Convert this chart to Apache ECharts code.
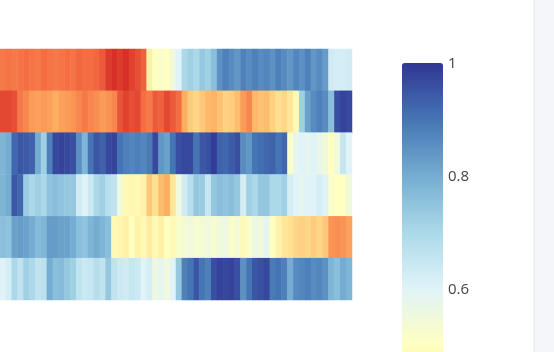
<!DOCTYPE html>
<html>
<head>
<meta charset="utf-8">
<script src="https://cdn.jsdelivr.net/npm/echarts@6/dist/echarts.min.js"></script>
<style>
html,body{margin:0;padding:0;background:#fff;}
#chart{width:554px;height:352px;}
</style>
</head>
<body>
<div id="chart"></div>
<script>
// Row labels (top to bottom) and column count
const rowNames = ['r1', 'r2', 'r3', 'r4', 'r5', 'r6'];

const row1 = [0.22,0.21,0.22,0.21,0.20,0.21,0.22,0.20,0.21,0.22,0.21,0.20,0.21,0.19,0.20,
              0.20,0.19,0.17,0.12,0.10,0.12,0.10,0.13,0.15,0.18,0.45,0.50,0.52,0.50,0.55,
              0.60,0.70,0.72,0.70,0.74,0.72,0.76,0.85,0.88,0.86,0.84,0.88,0.86,0.88,0.86,
              0.87,0.85,0.88,0.86,0.84,0.87,0.85,0.88,0.84,0.86,0.83,0.63,0.62,0.62,0.63];
const row2 = [0.14,0.14,0.15,0.22,0.24,0.27,0.28,0.27,0.28,0.30,0.28,0.27,0.26,0.24,0.22,
              0.24,0.25,0.27,0.26,0.24,0.16,0.13,0.15,0.14,0.20,0.22,0.17,0.18,0.14,0.17,
              0.20,0.30,0.36,0.38,0.35,0.32,0.31,0.34,0.37,0.36,0.33,0.27,0.24,0.32,0.34,
              0.33,0.37,0.40,0.38,0.42,0.48,0.72,0.82,0.86,0.88,0.86,0.76,0.96,0.98,0.97];
const row3 = [0.78,0.80,0.92,0.95,0.94,0.93,0.80,0.72,0.88,0.97,0.98,0.97,0.96,0.85,0.78,
              0.90,0.95,0.93,0.97,0.98,0.90,0.88,0.87,0.88,0.87,0.89,0.97,0.84,0.82,0.90,
              0.96,0.97,0.97,0.90,0.95,0.96,0.99,0.93,0.92,0.94,0.96,0.86,0.84,0.90,0.91,
              0.92,0.93,0.90,0.92,0.52,0.58,0.60,0.58,0.60,0.57,0.55,0.50,0.55,0.65,0.60];
const row4 = [0.78,0.80,0.95,0.92,0.73,0.70,0.72,0.70,0.75,0.76,0.75,0.74,0.74,0.63,0.60,
              0.64,0.70,0.72,0.68,0.66,0.55,0.48,0.47,0.48,0.46,0.35,0.40,0.33,0.30,0.42,
              0.55,0.63,0.68,0.74,0.73,0.65,0.74,0.76,0.75,0.76,0.74,0.62,0.72,0.70,0.74,
              0.74,0.70,0.70,0.72,0.62,0.60,0.58,0.60,0.60,0.62,0.60,0.52,0.50,0.50,0.55];
const row5 = [0.76,0.75,0.82,0.83,0.82,0.80,0.77,0.78,0.83,0.83,0.82,0.82,0.80,0.76,0.75,
              0.78,0.80,0.78,0.76,0.48,0.47,0.45,0.50,0.46,0.48,0.44,0.48,0.45,0.50,0.48,
              0.52,0.54,0.55,0.53,0.54,0.55,0.53,0.55,0.56,0.52,0.54,0.48,0.52,0.56,0.55,
              0.58,0.50,0.46,0.42,0.40,0.38,0.37,0.38,0.36,0.38,0.35,0.26,0.25,0.26,0.28];
const row6 = [0.60,0.62,0.70,0.66,0.72,0.70,0.66,0.67,0.80,0.76,0.77,0.74,0.72,0.66,0.64,
              0.65,0.68,0.66,0.74,0.66,0.64,0.63,0.65,0.64,0.60,0.62,0.56,0.58,0.55,0.60,
              0.74,0.88,0.90,0.95,0.90,0.88,0.96,0.98,0.97,0.98,0.96,0.85,0.90,0.95,0.96,
              0.97,0.89,0.90,0.88,0.80,0.86,0.87,0.88,0.86,0.87,0.85,0.78,0.76,0.80,0.78];

const colorbarTicks = [0.6, 0.8, 1];
const colorMin = 0, colorMax = 1;

const rows = [row1, row2, row3, row4, row5, row6];
const columns = row1.map((_, i) => String(i));
const data = [];
rows.forEach((r, yi) => r.forEach((v, xi) => data.push([xi, yi, v])));

const chart = echarts.init(document.getElementById('chart'), null, {renderer: 'canvas'});
chart.setOption({
  backgroundColor: '#ffffff',
  animation: false,
  grid: [
    {left: 0, top: 49, width: 352, height: 251, outerBoundsMode: 'none', containLabel: false},
    {left: 402, top: 64, width: 41, height: 564, outerBoundsMode: 'none', containLabel: false}
  ],
  xAxis: [
    {type: 'category', data: columns, gridIndex: 0, show: false},
    {type: 'value', gridIndex: 1, show: false, min: 0, max: 1}
  ],
  yAxis: [
    {type: 'category', data: rowNames, gridIndex: 0, show: false, inverse: true},
    {
      type: 'value', gridIndex: 1, min: colorMin, max: colorMax, interval: 0.2,
      position: 'right',
      axisLine: {show: false}, axisTick: {show: false}, splitLine: {show: false},
      axisLabel: {
        margin: 5, color: '#444', fontSize: 15, fontFamily: 'Open Sans',
        formatter: v => colorbarTicks.some(t => Math.abs(t - v) < 1e-9) ? String(+v.toFixed(1)) : ''
      }
    }
  ],
  visualMap: {
    type: 'continuous',
    seriesIndex: 0,
    min: colorMin, max: colorMax,
    calculable: false,
    orient: 'vertical',
    left: 387, top: 48,
    itemWidth: 41, itemHeight: 564,
    text: null,
    showLabel: false,
    z: 1,
    inRange: {
      color: ['#a50026','#d73027','#f46d43','#fdae61','#fee090','#ffffbf',
              '#e0f3f8','#abd9e9','#74add1','#4575b4','#313695']
    }
  },
  graphic: [
    {type: 'rect', shape: {x: 534, y: 0, width: 20, height: 352}, style: {fill: '#f5f6f9'}, z: 0},
    {type: 'line', shape: {x1: 534, y1: 0, x2: 534, y2: 352}, style: {stroke: '#e6e7ea', lineWidth: 1}, z: 1}
  ],
  series: [
    {
      type: 'heatmap', xAxisIndex: 0, yAxisIndex: 0, data: data,
      itemStyle: {borderWidth: 0},
      emphasis: {disabled: true}
    },
    {
      type: 'line', xAxisIndex: 1, yAxisIndex: 1, data: [], silent: true, z: 5
    }
  ]
});
</script>
</body>
</html>
